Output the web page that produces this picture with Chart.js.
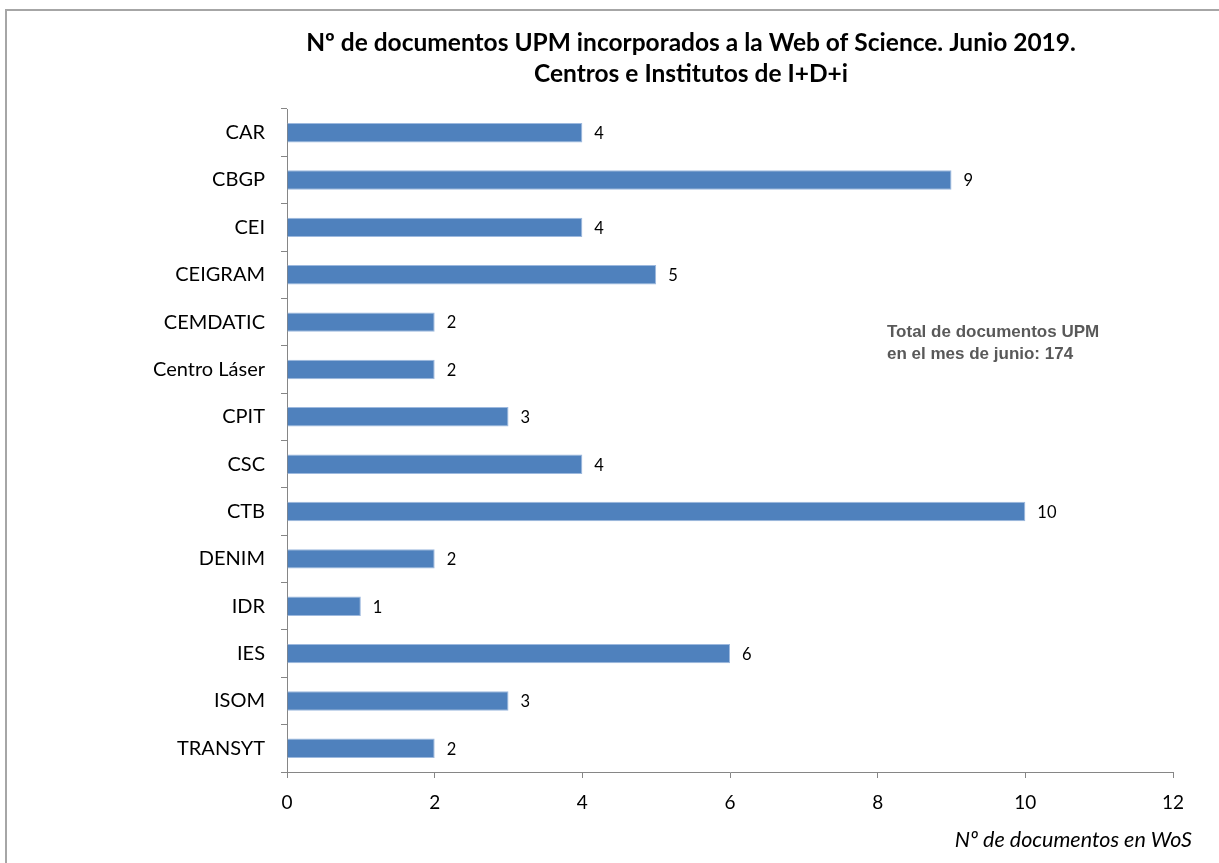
<!DOCTYPE html>
<html>
<head>
<meta charset="utf-8">
<script src="https://cdn.jsdelivr.net/npm/chart.js@4.4.1/dist/chart.umd.min.js"></script>
<style>
  html, body { margin: 0; padding: 0; background: #fff; }
  #wrap { width: 1219px; height: 863px; }
</style>
</head>
<body>
<div id="wrap"><canvas id="grafico" width="1219" height="863"></canvas></div>
<script>
// Datos
const centros = ['CAR', 'CBGP', 'CEI', 'CEIGRAM', 'CEMDATIC', 'Centro Láser', 'CPIT', 'CSC', 'CTB', 'DENIM', 'IDR', 'IES', 'ISOM', 'TRANSYT'];
const documentos = [4, 9, 4, 5, 2, 2, 3, 4, 10, 2, 1, 6, 3, 2];
const titulo = ['Nº de documentos UPM incorporados a la Web of Science. Junio 2019.', 'Centros e Institutos de I+D+i'];
const nota = ['Total de documentos UPM', 'en el mes de junio: 174'];
const tituloEjeX = 'Nº de documentos en WoS';

const FUENTE = 'Lato, "Open Sans", sans-serif';

// Textos extra: marco, titulo, nota, etiquetas de valor y titulo del eje
const textosExtra = {
    id: 'textosExtra',
    beforeDraw(chart) {
        const ctx = chart.ctx;
        ctx.save();
        ctx.fillStyle = '#fff';
        ctx.fillRect(0, 0, chart.width, chart.height);
        ctx.strokeStyle = '#a6a6a6';
        ctx.lineWidth = 2;
        ctx.strokeRect(6, 10, chart.width + 20, chart.height + 20);
        ctx.restore();
    },
    afterDraw(chart) {
        const ctx = chart.ctx;
        ctx.save();
        // titulo
        ctx.fillStyle = '#000';
        ctx.textAlign = 'center';
        ctx.textBaseline = 'alphabetic';
        ctx.font = 'bold 24.5px ' + FUENTE;
        ctx.fillText(titulo[0], 691, 51);
        ctx.fillText(titulo[1], 691, 82);

        // etiquetas de valor
        ctx.font = '16.5px ' + FUENTE;
        ctx.textAlign = 'left';
        ctx.textBaseline = 'middle';
        const meta = chart.getDatasetMeta(0);
        meta.data.forEach((bar, i) => {
            ctx.fillText(String(documentos[i]), bar.x + 12, bar.y + 1);
        });

        // nota
        ctx.fillStyle = '#595959';
        ctx.font = 'bold 17px "Liberation Sans", Arial, sans-serif';
        ctx.textBaseline = 'alphabetic';
        ctx.fillText(nota[0], 887, 337);
        ctx.fillText(nota[1], 887, 359);

        // titulo eje x
        ctx.fillStyle = '#000';
        ctx.font = 'italic 21.5px ' + FUENTE;
        ctx.textAlign = 'right';
        ctx.fillText(tituloEjeX, 1192, 847);
        ctx.restore();
    }
};

new Chart(document.getElementById('grafico'), {
    type: 'bar',
    data: {
        labels: centros,
        datasets: [{
            data: documentos,
            backgroundColor: '#4F81BD',
            borderColor: '#9DB9DE',
            borderWidth: 1,
            categoryPercentage: 1,
            barPercentage: 0.41
        }]
    },
    options: {
        indexAxis: 'y',
        responsive: false,
        animation: false,
        layout: { padding: { top: 109, right: 46, bottom: 0, left: 0 } },
        plugins: {
            legend: { display: false },
            title: { display: false },
            tooltip: { enabled: false }
        },
        scales: {
            x: {
                min: 0,
                max: 12,
                ticks: { stepSize: 2, color: '#000', padding: 13, font: { family: FUENTE, size: 19 } },
                grid: { drawOnChartArea: false, drawTicks: true, tickLength: 6, color: '#868686' },
                border: { color: '#868686', width: 1 },
                afterFit(scale) { scale.height = 91; }
            },
            y: {
                ticks: { color: '#000', padding: 16, font: { family: FUENTE, size: 20 } },
                grid: { drawOnChartArea: false, drawTicks: true, tickLength: 6, color: '#868686', offset: true },
                border: { color: '#868686', width: 1 },
                afterFit(scale) { scale.width = 287; }
            }
        }
    },
    plugins: [textosExtra]
});
</script>
</body>
</html>
